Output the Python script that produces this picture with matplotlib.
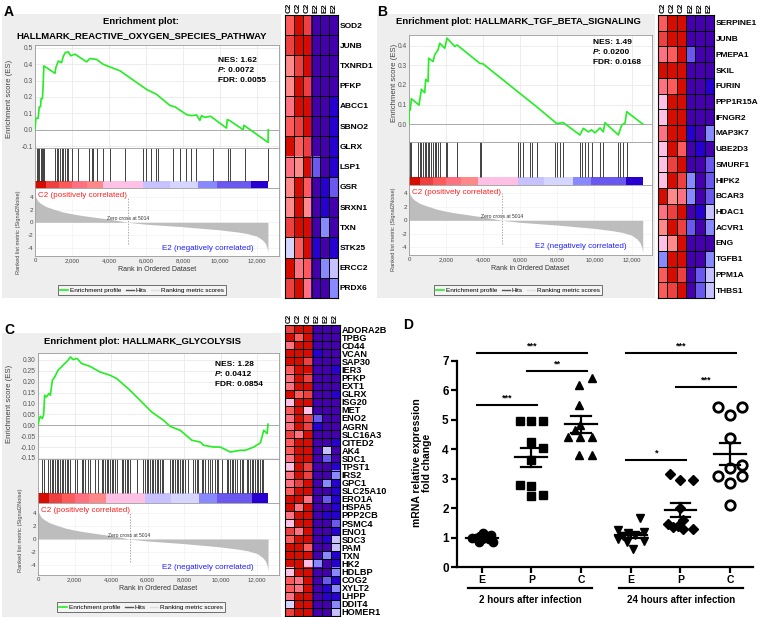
import numpy as np
import matplotlib
matplotlib.use('Agg')
import matplotlib.pyplot as plt
from matplotlib.colors import ListedColormap
from matplotlib.lines import Line2D
from matplotlib.patches import Rectangle

plt.rcParams['font.family'] = ['Liberation Sans', 'DejaVu Sans']

# ======================= DATA =======================
GSEA_COLORS = ['#4500AD', '#2700D1', '#6B58EF', '#8888FF', '#C7C1FF', '#D5D5FF',
               '#FFC0E5', '#FF8888', '#FF7080', '#FF5A5A', '#EF4040', '#D60C00']
HEAT_COLS = ['C2', 'C2', 'C2', 'E2', 'E2', 'E2']

RANK_TICKS = [0, 2000, 4000, 6000, 8000, 10000, 12000]
RANK_TICK_LABELS = ['0', '2,000', '4,000', '6,000', '8,000', '10,000', '12,000']

# ranked list metric (Signal2Noise), shared by the three GSEA plots
METRIC_RANK = [0, 50, 150, 300, 600, 1000, 1500, 2000, 2500, 3000, 3500, 4000, 4500,
               5014, 5500, 6000, 7000, 8000, 9000, 10000, 11000, 11500, 12000, 12300,
               12450, 12550, 12600]
METRIC_VAL = [4.4, 3.9, 3.4, 3.0, 2.5, 2.1, 1.65, 1.35, 1.1, 0.9, 0.7, 0.5, 0.28,
              0.0, -0.15, -0.3, -0.5, -0.7, -0.95, -1.2, -1.55, -1.8, -2.2, -2.8,
              -3.3, -4.0, -4.8]
ZERO_CROSS = 5014

CB_EDGES = [0, 600, 1300, 2000, 2800, 3700, 5850, 7300, 8830, 9820, 11700, 12600]
CB_COLORS = ['#d60c00', '#ef4040', '#ff5a5a', '#ff7080', '#ff8888', '#ffc0e5',
             '#c7c1ff', '#d5d5ff', '#8888ff', '#6b58ef', '#2700d1']

# ---- A: reactive oxygen species ----
A_ES_RANK = [0, 50, 170, 230, 300, 330, 400, 430, 480, 1080, 1130, 1260, 1440, 1530,
             1640, 1800, 1930, 2160, 2790, 2970, 3330, 3690, 4230, 4600, 6040, 6580,
             7300, 7570, 8200, 8470, 8740, 8920, 9010, 9190, 9370, 9500, 10360, 10400,
             10540, 11260, 11300, 12610, 12620]
A_ES_VAL = [0.00, 0.07, 0.07, 0.14, 0.14, 0.19, 0.19, 0.245, 0.39, 0.345, 0.38, 0.42,
            0.41, 0.448, 0.472, 0.476, 0.452, 0.462, 0.415, 0.435, 0.43, 0.40, 0.376,
            0.36, 0.246, 0.216, 0.148, 0.14, 0.092, 0.086, 0.09, 0.057, 0.086, 0.075,
            0.08, 0.082, 0.01, 0.062, 0.055, 0.0, 0.027, -0.078, 0.0]
A_HITS = [90, 144, 234, 306, 360, 414, 486, 1080, 1170, 1260, 1350, 1440, 1530, 1620,
          1710, 1800, 1980, 2340, 2934, 3060, 3150, 3330, 3690, 4050, 4860, 5850, 6030,
          6300, 6570, 6660, 7470, 7830, 8190, 8460, 8730, 9630, 10440, 10530, 11340, 12600]
A_STATS = ('1.62', '0.0072', '0.0055')
A_GENES = ['SOD2', 'JUNB', 'TXNRD1', 'PFKP', 'ABCC1', 'SBNO2', 'GLRX', 'LSP1', 'GSR',
           'SRXN1', 'TXN', 'STK25', 'ERCC2', 'PRDX6']
A_HEAT = [[9, 11, 10, 0, 0, 0], [10, 11, 11, 0, 0, 0], [7, 10, 11, 0, 0, 0],
          [7, 11, 10, 0, 0, 0], [8, 11, 11, 0, 0, 1], [9, 10, 11, 0, 0, 1],
          [11, 9, 10, 0, 0, 1], [8, 7, 11, 2, 0, 1], [7, 11, 9, 0, 1, 2],
          [7, 11, 7, 0, 1, 0], [10, 11, 11, 0, 3, 0], [5, 9, 11, 1, 0, 1],
          [11, 8, 9, 0, 3, 4], [10, 11, 8, 0, 0, 3]]

# ---- B: TGF beta ----
B_ES_RANK = [0, 1, 70, 126, 540, 666, 846, 900, 1026, 1062, 1296, 1386, 1566, 1656,
             1926, 2052, 2466, 2592, 3816, 3996, 5976, 6876, 7956, 8316, 9216, 9396,
             9666, 9846, 10026, 10296, 10476, 10566, 11286, 11466, 11646, 11736, 12600]
B_ES_VAL = [0.0, 0.07, 0.072, 0.13, 0.097, 0.178, 0.16, 0.229, 0.217, 0.337, 0.32,
            0.354, 0.38, 0.414, 0.388, 0.44, 0.397, 0.405, 0.311, 0.308, 0.157, 0.089,
            0.003, 0.007, -0.056, -0.022, -0.04, -0.03, -0.045, -0.02, -0.04, 0.007,
            -0.056, -0.005, 0.005, 0.063, 0.0]
B_HITS = [72, 126, 486, 576, 666, 756, 846, 936, 1026, 1080, 1206, 1296, 1386, 1476,
          1566, 1656, 1980, 2052, 2592, 3816, 3906, 5886, 5976, 6156, 6516, 6606, 6876,
          7866, 7956, 8136, 8316, 9216, 9306, 9486, 9666, 9846, 10296, 10476, 11286,
          11376, 11556, 11736]
B_STATS = ('1.49', '0.0200', '0.0168')
B_GENES = ['SERPINE1', 'JUNB', 'PMEPA1', 'SKIL', 'FURIN', 'PPP1R15A', 'IFNGR2', 'MAP3K7',
           'UBE2D3', 'SMURF1', 'HIPK2', 'BCAR3', 'HDAC1', 'ACVR1', 'ENG', 'TGFB1',
           'PPM1A', 'THBS1']
B_HEAT = [[9, 11, 11, 0, 0, 0], [10, 11, 11, 0, 0, 0], [8, 9, 11, 2, 0, 0],
          [11, 11, 11, 0, 0, 0], [8, 9, 11, 0, 0, 1], [6, 11, 11, 0, 0, 0],
          [6, 11, 11, 0, 0, 0], [8, 11, 11, 1, 0, 3], [6, 11, 9, 0, 1, 0],
          [6, 10, 11, 0, 0, 2], [6, 11, 10, 3, 0, 2], [11, 7, 8, 3, 0, 2],
          [8, 10, 11, 0, 1, 4], [7, 11, 10, 2, 0, 3], [6, 7, 11, 0, 0, 0],
          [3, 11, 11, 0, 0, 3], [9, 11, 10, 0, 2, 4], [9, 10, 11, 0, 2, 4]]

# ---- C: glycolysis ----
C_ES_RANK = [0, 55, 128, 238, 311, 366, 458, 605, 678, 788, 916, 1099, 1282, 1466, 1649,
             1777, 1924, 2143, 2382, 2840, 3389, 3939, 4305, 5038, 5588, 6229, 6870, 7236,
             7786, 8427, 8885, 9068, 9618, 9984, 10534, 11084, 11358, 11816, 12182, 12366,
             12549, 12600]
C_ES_VAL = [0.0, 0.023, 0.041, 0.031, 0.05, 0.138, 0.13, 0.146, 0.138, 0.207, 0.222,
            0.253, 0.268, 0.284, 0.299, 0.314, 0.302, 0.307, 0.284, 0.271, 0.245, 0.23,
            0.215, 0.161, 0.115, 0.061, 0.023, -0.005, -0.023, -0.069, -0.077, -0.092,
            -0.1, -0.1, -0.123, -0.115, -0.115, -0.1, -0.081, -0.023, -0.038, 0.005]
C_HITS = [201, 310, 566, 657, 749, 840, 931, 1022, 1114, 1205, 1296, 1388, 1479, 1570,
          1662, 1753, 2027, 2118, 2392, 2483, 2575, 2757, 2849, 3122, 3305, 3488, 3579,
          3670, 3762, 3853, 3944, 4035, 4127, 4218, 4309, 4583, 4675, 4766, 4857, 4948,
          5040, 5405, 5770, 5861, 5953, 6044, 6135, 6227, 6318, 6409, 6501, 6592, 6683,
          6774, 6866, 7231, 7322, 7414, 7505, 7596, 7687, 7779, 7870, 7961, 8053, 8235,
          8509, 8601, 8692, 8783, 8966, 9057, 9148, 9331, 9422, 9513, 9696, 9787, 9879,
          10061, 10335, 10427, 10518, 10609, 10700, 10792, 10883, 11066, 11157, 11248,
          11431, 11522, 11614, 11705, 11796, 11887, 11979, 12070, 12161, 12253, 12344]
C_STATS = ('1.28', '0.0412', '0.0854')
C_GENES = ['ADORA2B', 'TPBG', 'CD44', 'VCAN', 'SAP30', 'IER3', 'PFKP', 'EXT1', 'GLRX',
           'ISG20', 'MET', 'ENO2', 'AGRN', 'SLC16A3', 'CITED2', 'AK4', 'SDC1', 'TPST1',
           'IRS2', 'GPC1', 'SLC25A10', 'ERO1A', 'HSPA5', 'PPP2CB', 'PSMC4', 'ENO1', 'SDC3',
           'PAM', 'TXN', 'HK2', 'HDLBP', 'COG2', 'XYLT2', 'LHPP', 'DDIT4', 'HOMER1']
C_HEAT = [[10, 11, 11, 0, 0, 0], [11, 9, 11, 0, 0, 0], [8, 11, 11, 0, 0, 0],
          [11, 11, 11, 1, 0, 0], [11, 11, 10, 0, 0, 0], [9, 11, 11, 0, 0, 1],
          [8, 11, 10, 0, 0, 0], [8, 11, 11, 0, 0, 0], [11, 9, 10, 0, 0, 1],
          [6, 11, 11, 0, 0, 0], [9, 11, 6, 0, 0, 0], [8, 11, 10, 2, 0, 0],
          [8, 11, 10, 1, 0, 0], [10, 8, 11, 0, 0, 0], [9, 11, 11, 0, 0, 1],
          [9, 11, 11, 0, 4, 0], [8, 11, 11, 0, 2, 0], [6, 11, 10, 0, 0, 1],
          [8, 11, 10, 0, 0, 3], [8, 10, 11, 0, 3, 1], [9, 11, 11, 0, 0, 1],
          [11, 11, 8, 0, 2, 1], [11, 8, 11, 0, 0, 1], [8, 11, 11, 0, 1, 1],
          [6, 11, 11, 0, 0, 2], [10, 8, 11, 0, 0, 1], [9, 11, 11, 0, 1, 4],
          [11, 11, 9, 0, 0, 4], [11, 11, 11, 0, 3, 1], [11, 11, 6, 3, 0, 1],
          [6, 11, 11, 0, 0, 3], [9, 8, 11, 0, 2, 1], [9, 8, 11, 0, 1, 3],
          [8, 11, 11, 0, 1, 1], [5, 11, 11, 0, 0, 3], [10, 11, 11, 0, 0, 4]]

# ---- D: mRNA relative expression ----
D_LABELS = ['E', 'P', 'C', 'E', 'P', 'C']
D_TIMES = ['2 hours after infection', '24 hours after infection']
D_VALUES = [
    [1.0, 0.98, 1.05, 1.15, 1.05, 0.95, 0.85, 0.95, 0.85, 1.1],
    [4.95, 4.95, 4.95, 4.25, 4.05, 3.65, 2.8, 2.75, 2.4, 2.45],
    [6.43, 6.19, 5.51, 4.83, 4.66, 4.43, 4.43, 4.43, 3.81, 3.81],
    [1.65, 1.25, 1.2, 1.15, 1.1, 1.05, 0.95, 0.9, 0.85, 0.6],
    [3.15, 2.95, 2.95, 2.0, 1.6, 1.45, 1.4, 1.3, 1.3, 1.35],
    [5.45, 5.17, 5.45, 4.39, 3.47, 3.37, 3.1, 3.1, 2.86, 2.11],
]
D_JITTER = [
    [-0.2, -0.12, -0.04, 0.02, 0.1, 0.0, -0.06, 0.14, 0.22, 0.18],
    [-0.22, 0.0, 0.24, 0.0, 0.24, 0.0, -0.22, 0.0, 0.0, 0.24],
    [0.22, -0.04, -0.04, -0.02, -0.12, -0.26, -0.02, 0.22, -0.04, 0.22],
    [0.19, -0.25, 0.26, -0.05, 0.09, -0.15, -0.25, 0.26, -0.08, 0.05],
    [-0.22, 0.0, 0.25, 0.0, 0.05, -0.26, -0.05, 0.25, 0.05, -0.15],
    [-0.24, 0.0, 0.24, 0.0, 0.24, 0.0, -0.24, 0.24, 0.0, 0.0],
]
D_SIG = [  # (group i, group j, stars)
    (0, 2, '***'), (1, 2, '**'), (0, 1, '***'),
    (3, 5, '***'), (4, 5, '***'), (3, 4, '*'),
]
D_SIG_Y = [7.28, 6.67, 5.51, 7.28, 6.12, 3.64]

# ======================= DRAWING =======================
W, H = 760, 617
fig = plt.figure(figsize=(7.6, 6.17), dpi=100)
GSEA_CMAP = ListedColormap(GSEA_COLORS)


def px_axes(x0, y0, x1, y1, **kw):
    return fig.add_axes([x0 / W, 1 - y1 / H, (x1 - x0) / W, (y1 - y0) / H], **kw)


def ftext(x, y, s, **kw):
    return fig.text(x / W, 1 - y / H, s, **kw)


def style_box(ax):
    for s in ax.spines.values():
        s.set_color('#9a9a9a')
        s.set_linewidth(0.6)


def gsea_panel(bg, x0, x1, es_top, es_bot, hits_bot, cb_bot, rank_bot, xmax,
               es_ylim, es_ticks, es_fmt, es_rank, es_val, hits, stats, stats_xy,
               rank_ylim, es_lab_xy, rank_lab_xy, legend_xy):
    # gray panel background
    fig.patches.append(Rectangle((bg[0] / W, 1 - bg[3] / H), (bg[2] - bg[0]) / W,
                                 (bg[3] - bg[1]) / H, transform=fig.transFigure,
                                 facecolor='#eeeeee', edgecolor='none', zorder=-10))
    # enrichment score
    ax = px_axes(x0, es_top, x1, es_bot)
    ax.plot(es_rank, es_val, color='#22ee22', lw=1.2, zorder=3)
    ax.axhline(0, color='#a0a0a0', lw=0.6, zorder=2)
    ax.set_xlim(0, xmax)
    ax.set_ylim(*es_ylim)
    ax.set_xticks(RANK_TICKS)
    ax.set_xticklabels([])
    ax.set_yticks(es_ticks)
    ax.set_yticklabels([es_fmt % t for t in es_ticks], fontsize=4.8, color='#555555')
    ax.grid(True, color='#e6e6e6', lw=0.5)
    ax.tick_params(length=0, pad=1.5)
    style_box(ax)
    ftext(es_lab_xy[0], es_lab_xy[1], 'Enrichment score (ES)', rotation=90,
          ha='center', va='center', fontsize=5.6, color='#444444')
    lines = [('NES: ' + stats[0], None), ('P', stats[1]), ('FDR: ' + stats[2], None)]
    for k, (a, b) in enumerate(lines):
        yy = stats_xy[1] + k * 10
        if b is None:
            ftext(stats_xy[0], yy, a, fontsize=6, fontweight='bold', va='center')
        else:
            ftext(stats_xy[0], yy, 'P', fontsize=6, fontweight='bold', style='italic',
                  va='center')
            ftext(stats_xy[0] + 4.6, yy, ': ' + b, fontsize=6, fontweight='bold',
                  va='center')
    # hits + color bar
    axh = px_axes(x0, es_bot, x1, cb_bot)
    frac = (cb_bot - hits_bot) / (cb_bot - es_bot)
    axh.set_xlim(0, xmax)
    axh.set_ylim(0, 1)
    axh.vlines(hits, frac, 1, color='#222222', lw=0.6)
    for e0, e1, c in zip(CB_EDGES[:-1], CB_EDGES[1:], CB_COLORS):
        axh.axvspan(e0, e1, ymin=0, ymax=frac, color=c, lw=0)
    axh.set_xticks([])
    axh.set_yticks([])
    style_box(axh)
    # ranked list metric
    axr = px_axes(x0, cb_bot, x1, rank_bot)
    axr.fill_between(METRIC_RANK, METRIC_VAL, 0, color='#bdbdbd', lw=0)
    axr.set_xlim(0, xmax)
    axr.set_ylim(*rank_ylim)
    axr.plot([ZERO_CROSS, ZERO_CROSS], [-3.5, 4.0], color='#888888', lw=0.5,
             dashes=(2, 2))
    axr.text(ZERO_CROSS, 0.2, 'Zero cross at %d' % ZERO_CROSS, fontsize=3.6,
             color='#333333', ha='center', va='bottom')
    axr.text(150, rank_ylim[1] - 0.6, 'C2 (positively correlated)', color='#ff2020',
             fontsize=5.8, va='top', ha='left',
             bbox=dict(facecolor='white', edgecolor='none', pad=0.3))
    axr.text(xmax * 0.895, rank_ylim[0] + 1.2, 'E2 (negatively correlated)',
             color='#2020ff', fontsize=5.8, va='center', ha='right')
    axr.set_xticks(RANK_TICKS)
    axr.set_xticklabels(RANK_TICK_LABELS, fontsize=4.3, color='#444444')
    axr.set_yticks([-4, -2, 0, 2, 4])
    axr.set_yticklabels(['-4', '-2', '0', '2', '4'], fontsize=4.5, color='#444444')
    axr.tick_params(length=0, pad=1.5)
    axr.grid(True, color='#eeeeee', lw=0.4)
    axr.set_axisbelow(True)
    style_box(axr)
    axr.set_xlabel('Rank in Ordered Dataset', fontsize=5, color='#333333', labelpad=2)
    ftext(rank_lab_xy[0], rank_lab_xy[1], 'Ranked list metric (Signal2Noise)',
          rotation=90, ha='center', va='center', fontsize=4.1, color='#444444')
    # legend
    handles = [Line2D([], [], color='#22ee22', lw=1.2),
               Line2D([], [], color='#555555', lw=1.0),
               Line2D([], [], color='#dddddd', lw=1.0)]
    leg = fig.legend(handles, ['Enrichment profile', 'Hits', 'Ranking metric scores'],
                     loc='center', bbox_to_anchor=(legend_xy[0] / W, 1 - legend_xy[1] / H),
                     ncol=3, fontsize=4.6, frameon=True, fancybox=False,
                     edgecolor='#333333', facecolor='#f6f6f6', handlelength=1.2,
                     handletextpad=0.3, columnspacing=0.7, borderpad=0.35)
    leg.get_frame().set_linewidth(0.6)


def heatmap(x0, y0, x1, y1, mat, genes, fs, family, weight, col_fs=5.8):
    ax = px_axes(x0, y0, x1, y1)
    m = np.array(mat)
    nr, nc = m.shape
    ax.imshow(m, cmap=GSEA_CMAP, vmin=-0.5, vmax=11.5, aspect='auto',
              interpolation='nearest')
    ax.set_xticks(np.arange(-0.5, nc, 1), minor=True)
    ax.set_yticks(np.arange(-0.5, nr, 1), minor=True)
    ax.grid(which='minor', color='black', lw=0.7)
    ax.grid(which='major', visible=False)
    ax.tick_params(which='both', length=0, pad=1.2)
    ax.set_xticks(range(nc))
    ax.set_xticklabels(HEAT_COLS, rotation=90, fontsize=col_fs, fontweight='bold')
    ax.xaxis.tick_top()
    ax.set_yticks(range(nr))
    ax.set_yticklabels(genes, fontsize=fs, fontweight=weight, family=family)
    ax.yaxis.tick_right()
    for s in ax.spines.values():
        s.set_color('black')
        s.set_linewidth(0.8)
    return ax


# ---------- Panel A ----------
ftext(4, 12, 'A', fontsize=10, fontweight='bold', va='center')
ftext(141, 22, 'Enrichment plot:', fontsize=6.8, fontweight='bold', ha='center',
      va='center')
ftext(142, 36, 'HALLMARK_REACTIVE_OXYGEN_SPECIES_PATHWAY', fontsize=6.8,
      fontweight='bold', ha='center', va='center')
gsea_panel(bg=(2, 14, 281, 298), x0=35, x1=279, es_top=45, es_bot=148, hits_bot=181,
           cb_bot=188, rank_bot=256, xmax=13200, es_ylim=(-0.112, 0.518),
           es_ticks=[-0.1, 0.0, 0.1, 0.2, 0.3, 0.4, 0.5], es_fmt='%.1f',
           es_rank=A_ES_RANK, es_val=A_ES_VAL, hits=A_HITS, stats=A_STATS,
           stats_xy=(218, 61), rank_ylim=(-5.35, 5.45), es_lab_xy=(10, 99),
           rank_lab_xy=(19, 232), legend_xy=(142, 290))
heatmap(285, 15, 338, 298, A_HEAT, A_GENES, 6, 'Liberation Sans', 'bold')

# ---------- Panel B ----------
ftext(377, 12, 'B', fontsize=10, fontweight='bold', va='center')
ftext(518, 22, 'Enrichment plot: HALLMARK_TGF_BETA_SIGNALING', fontsize=6.8,
      fontweight='bold', ha='center', va='center')
gsea_panel(bg=(377, 14, 655, 298), x0=409, x1=652, es_top=35, es_bot=142, hits_bot=177,
           cb_bot=185, rank_bot=255, xmax=13100, es_ylim=(-0.092, 0.456),
           es_ticks=[0.0, 0.1, 0.2, 0.3, 0.4], es_fmt='%.1f',
           es_rank=B_ES_RANK, es_val=B_ES_VAL, hits=B_HITS, stats=B_STATS,
           stats_xy=(593, 43), rank_ylim=(-5.15, 5.25), es_lab_xy=(395, 83),
           rank_lab_xy=(393, 229), legend_xy=(518, 290))
heatmap(658, 15, 714, 298, B_HEAT, B_GENES, 6, 'Liberation Sans', 'bold')

# ---------- Panel C ----------
ftext(4, 330, 'C', fontsize=10, fontweight='bold', va='center')
ftext(142, 341, 'Enrichment plot: HALLMARK_GLYCOLYSIS', fontsize=6.8,
      fontweight='bold', ha='center', va='center')
gsea_panel(bg=(2, 333, 281, 617), x0=38, x1=279, es_top=353, es_bot=459, hits_bot=493,
           cb_bot=503, rank_bot=575, xmax=13200, es_ylim=(-0.155, 0.332),
           es_ticks=[-0.15, -0.10, -0.05, 0.0, 0.05, 0.10, 0.15, 0.20, 0.25, 0.30],
           es_fmt='%.2f', es_rank=C_ES_RANK, es_val=C_ES_VAL, hits=C_HITS,
           stats=C_STATS, stats_xy=(215, 365), rank_ylim=(-5.45, 5.45),
           es_lab_xy=(10, 404), rank_lab_xy=(21, 530), legend_xy=(141, 607))
heatmap(285, 325, 340, 616, C_HEAT, C_GENES, 6.6,
        ['Liberation Sans Narrow', 'Liberation Sans'], 'bold', col_fs=5.2)

# ---------- Panel D ----------
ftext(403, 325, 'D', fontsize=10, fontweight='bold', va='center')
axd = px_axes(457, 330, 753, 567)
D_X = np.arange(len(D_LABELS))
axd.set_xlim(-0.497, 5.46)
axd.set_ylim(0, 8.05)
markers = [dict(marker='o', ms=6, mfc='black', mec='black'),
           dict(marker='s', ms=5.6, mfc='black', mec='black'),
           dict(marker='^', ms=6.4, mfc='black', mec='black'),
           dict(marker='v', ms=6.4, mfc='black', mec='black'),
           dict(marker='D', ms=5.0, mfc='black', mec='black'),
           dict(marker='o', ms=6.8, mfc='white', mec='black', mew=2.0)]
for i, (vals, jit) in enumerate(zip(D_VALUES, D_JITTER)):
    v = np.array(vals)
    axd.plot(D_X[i] + np.array(jit), v, ls='none', zorder=3, clip_on=False, **markers[i])
    mean = v.mean()
    sem = v.std(ddof=1) / np.sqrt(len(v))
    axd.plot([D_X[i] - 0.32, D_X[i] + 0.32], [mean, mean], color='black', lw=1.6, zorder=4)
    axd.plot([D_X[i], D_X[i]], [mean - sem, mean + sem], color='black', lw=1.6, zorder=4)
    for yy in (mean - sem, mean + sem):
        axd.plot([D_X[i] - 0.2, D_X[i] + 0.2], [yy, yy], color='black', lw=1.6, zorder=4)
for (gi, gj, stars), yy in zip(D_SIG, D_SIG_Y):
    xa, xb = D_X[gi] - 0.09, D_X[gj] + 0.12
    axd.plot([xa, xb], [yy, yy], color='black', lw=1.5, clip_on=False)
    axd.text((xa + xb) / 2, yy + 0.08, stars, ha='center', va='bottom', fontsize=6.5,
             fontweight='bold')
for s in ('top', 'right'):
    axd.spines[s].set_visible(False)
for s in ('left', 'bottom'):
    axd.spines[s].set_linewidth(1.6)
axd.spines['left'].set_bounds(0, 7)
axd.set_yticks(range(8))
axd.set_yticklabels([str(k) for k in range(8)], fontsize=8.5, fontweight='bold')
axd.set_xticks(D_X)
axd.set_xticklabels(D_LABELS, fontsize=7.5, fontweight='bold')
axd.tick_params(width=1.6, length=4, pad=2)
for k, (xa, xb) in enumerate([(-0.28, 2.22), (2.76, 5.26)]):
    axd.plot([xa, xb], [-0.71, -0.71], color='black', lw=1.6, clip_on=False)
    axd.text((xa + xb) / 2, -1.12, D_TIMES[k], ha='center', va='center', fontsize=7,
             fontweight='bold')
ftext(422, 463, 'mRNA relative expression\nfold change', rotation=90, ha='center',
      va='center', fontsize=7.5, fontweight='bold', multialignment='center',
      linespacing=1.1)

fig.savefig('out.png', dpi=100)
